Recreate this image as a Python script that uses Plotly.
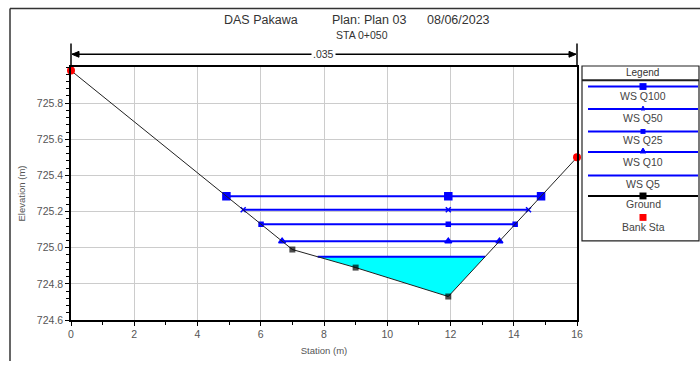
import numpy as np
import plotly.graph_objects as go

# ---------------- data ----------------
ground_sta = [0.0, 7.0, 9.0, 11.93, 16.0]
ground_elev = [725.98, 724.99, 724.89, 724.73, 725.50]
bank_sta = [0.0, 16.0]
bank_elev = [725.98, 725.50]
ws_names = ["WS Q100", "WS Q50", "WS Q25", "WS Q10", "WS Q5"]
ws_elev = [725.285, 725.21, 725.13, 725.036, 724.95]
ws_symbols = ["square", "x-thin", "square", "triangle-up", None]
ws_sizes = [7, 5, 4, 6, 0]
n_value = ".035"
x_ticks = [0, 2, 4, 6, 8, 10, 12, 14, 16]
y_ticks = [724.6, 724.8, 725.0, 725.2, 725.4, 725.6, 725.8]
title_parts = ["DAS Pakawa", "Plan: Plan 03", "08/06/2023"]
subtitle = "STA 0+050"

FONT = "Liberation Sans, Arial, sans-serif"
W, H = 700, 367
L, R, T, B = 71, 577, 67, 326   # plot area pixels


def px(x):
    return (x - L) / (R - L)


def py(y):
    return (B - y) / (B - T)


gs = np.array(ground_sta)
ge = np.array(ground_elev)
imin = int(np.argmin(ge))


def intersections(z):
    ls, le = gs[: imin + 1], ge[: imin + 1]
    rs, re = gs[imin:], ge[imin:]
    xl = float(np.interp(z, le[::-1], ls[::-1]))
    xr = float(np.interp(z, re, rs))
    return xl, xr


fig = go.Figure()

# cyan fill for lowest water surface
z5 = ws_elev[-1]
xl5, xr5 = intersections(z5)
inner = [(s, e) for s, e in zip(ground_sta, ground_elev) if xl5 < s < xr5]
poly_x = [xl5] + [p[0] for p in inner] + [xr5, xl5]
poly_y = [z5] + [p[1] for p in inner] + [z5, z5]
fig.add_trace(go.Scatter(x=poly_x, y=poly_y, fill="toself", fillcolor="#00FFFF",
                         mode="none", hoverinfo="skip", showlegend=False))

# water surfaces
for name, z, sym, sz in zip(ws_names, ws_elev, ws_symbols, ws_sizes):
    xl, xr = intersections(z)
    xs = [xl, gs[imin], xr]
    ys = [z, z, z]
    if sym:
        fig.add_trace(go.Scatter(x=xs, y=ys, mode="lines+markers", name=name,
                                 line=dict(color="#0000FF", width=2),
                                 marker=dict(symbol=sym, size=sz, color="#0000FF",
                                             line=dict(color="#0000FF", width=1.5)),
                                 showlegend=False))
    else:
        fig.add_trace(go.Scatter(x=xs, y=ys, mode="lines", name=name,
                                 line=dict(color="#0000FF", width=2), showlegend=False))

# ground (markers only on interior points; bank stations get red dots)
g_sizes = [0 if s in bank_sta else 6 for s in ground_sta]
fig.add_trace(go.Scatter(x=ground_sta, y=ground_elev, mode="lines+markers", name="Ground",
                         line=dict(color="#202020", width=1),
                         marker=dict(symbol="square", size=g_sizes, color="#000000",
                                     line=dict(width=0)),
                         showlegend=False))
# bank stations
fig.add_trace(go.Scatter(x=bank_sta, y=bank_elev, mode="markers", name="Bank Sta",
                         marker=dict(symbol="circle", size=8, color="#FF0000", line=dict(width=0)),
                         showlegend=False, cliponaxis=False))

shapes = []
annotations = []

# outer frame (left & top)
shapes.append(dict(type="line", xref="paper", yref="paper", x0=px(10), x1=px(10), y0=py(7), y1=py(368),
                   line=dict(color="#333", width=1.5)))
shapes.append(dict(type="line", xref="paper", yref="paper", x0=px(10), x1=px(701), y0=py(7), y1=py(7),
                   line=dict(color="#333", width=1.5)))

# Manning's n line
ny = 54
shapes.append(dict(type="line", xref="paper", yref="paper", x0=px(L + 1), x1=px(R - 1), y0=py(ny), y1=py(ny),
                   line=dict(color="black", width=1.5)))
for xe in (L, R):
    shapes.append(dict(type="line", xref="paper", yref="paper", x0=px(xe), x1=px(xe), y0=py(43), y1=py(T),
                       line=dict(color="black", width=1.5)))
shapes.append(dict(type="path", xref="paper", yref="paper",
                   path=f"M {px(L+1)},{py(ny)} L {px(L+8)},{py(ny-3)} L {px(L+8)},{py(ny+3)} Z",
                   fillcolor="black", line=dict(color="black", width=1)))
shapes.append(dict(type="path", xref="paper", yref="paper",
                   path=f"M {px(R-1)},{py(ny)} L {px(R-8)},{py(ny-3)} L {px(R-8)},{py(ny+3)} Z",
                   fillcolor="black", line=dict(color="black", width=1)))
annotations.append(dict(xref="paper", yref="paper", x=px(323), y=py(ny), text=n_value, showarrow=False,
                        font=dict(family=FONT, size=10.5, color="#333"), bgcolor="white",
                        xanchor="center", yanchor="middle", borderpad=1))

# titles
for txt, cxp in zip(title_parts, [261, 369, 458]):
    annotations.append(dict(xref="paper", yref="paper", x=px(cxp), y=py(19), text=txt,
                            showarrow=False, font=dict(family=FONT, size=12.5, color="#333"),
                            xanchor="center", yanchor="middle"))
annotations.append(dict(xref="paper", yref="paper", x=px(362), y=py(34), text=subtitle,
                        showarrow=False, font=dict(family=FONT, size=10.5, color="#333"),
                        xanchor="center", yanchor="middle"))

# custom legend box
LX0, LX1, LY0, LY1 = 582, 699, 66, 245
shapes.append(dict(type="rect", xref="paper", yref="paper", x0=px(LX0), x1=px(LX1), y0=py(LY0), y1=py(LY1),
                   line=dict(color="#222", width=1.2), fillcolor="white"))
shapes.append(dict(type="line", xref="paper", yref="paper", x0=px(LX0), x1=px(LX1), y0=py(80.5), y1=py(80.5),
                   line=dict(color="#222", width=2)))
annotations.append(dict(xref="paper", yref="paper", x=px(642), y=py(73), text="Legend", showarrow=False,
                        font=dict(family=FONT, size=10, color="#333"), xanchor="center", yanchor="middle"))

leg_line_y = [87, 110, 133, 154, 178, 199]
leg_text_y = [97, 119, 142, 164, 187, 207]
leg_labels = ws_names + ["Ground"]
leg_colors = ["#0000FF"] * 5 + ["black"]
leg_marks = [("square", 3.5), ("tri", 2), ("square", 2.5), ("tri", 3), (None, 0), ("square", 3.5)]
cx = 643
for ly, ty, lab, col, (mk, ms) in zip(leg_line_y, leg_text_y, leg_labels, leg_colors, leg_marks):
    shapes.append(dict(type="line", xref="paper", yref="paper", x0=px(588), x1=px(698), y0=py(ly), y1=py(ly),
                       line=dict(color=col, width=2)))
    if mk == "square":
        shapes.append(dict(type="rect", xref="paper", yref="paper", x0=px(cx - ms), x1=px(cx + ms),
                           y0=py(ly - ms), y1=py(ly + ms), fillcolor=col, line=dict(width=0)))
    elif mk == "tri":
        shapes.append(dict(type="path", xref="paper", yref="paper",
                           path=f"M {px(cx-ms)},{py(ly+1)} L {px(cx+ms)},{py(ly+1)} L {px(cx)},{py(ly-ms-1)} Z",
                           fillcolor=col, line=dict(color=col, width=1)))
    annotations.append(dict(xref="paper", yref="paper", x=px(cx), y=py(ty), text=lab, showarrow=False,
                            font=dict(family=FONT, size=10.5, color="#444"), xanchor="center", yanchor="middle"))
shapes.append(dict(type="rect", xref="paper", yref="paper", x0=px(cx - 3.5), x1=px(cx + 3.5),
                   y0=py(221 - 3.5), y1=py(221 + 3.5), fillcolor="#FF0000", line=dict(width=0)))
annotations.append(dict(xref="paper", yref="paper", x=px(cx), y=py(231), text="Bank Sta", showarrow=False,
                        font=dict(family=FONT, size=10.5, color="#444"), xanchor="center", yanchor="middle"))

fig.update_layout(
    width=W, height=H,
    margin=dict(l=L, r=W - R, t=T, b=H - B),
    paper_bgcolor="white", plot_bgcolor="white",
    font=dict(family=FONT, size=10, color="#555"),
    showlegend=False,
    shapes=shapes, annotations=annotations,
    xaxis=dict(range=[0, 16], tickvals=x_ticks, ticktext=[str(v) for v in x_ticks],
               showgrid=True, gridcolor="#CCCCCC", gridwidth=1, zeroline=False,
               showline=True, linecolor="black", linewidth=1.5, mirror=True,
               ticks="outside", ticklen=4, tickcolor="black", tickfont=dict(size=10.5, color="#555"),
               minor=dict(dtick=1, ticks="outside", ticklen=3, tickcolor="black", showgrid=False),
               title=dict(text="Station (m)", font=dict(size=9.5, color="#555"), standoff=8)),
    yaxis=dict(range=[724.6, 726.0], tickvals=y_ticks, ticktext=[f"{v:.1f}" for v in y_ticks],
               showgrid=True, gridcolor="#CCCCCC", gridwidth=1, zeroline=False,
               showline=True, linecolor="black", linewidth=1.5, mirror=True,
               ticks="outside", ticklen=4, tickcolor="black", tickfont=dict(size=10.5, color="#555"),
               minor=dict(dtick=0.04, tick0=724.6, ticks="outside", ticklen=3, tickcolor="black", showgrid=False),
               title=dict(text="Elevation (m)", font=dict(size=9.5, color="#555"), standoff=10)),
)

fig.write_html("out.html", config={"displayModeBar": False},
               post_script="document.body.style.margin='0';document.body.style.padding='0';")
